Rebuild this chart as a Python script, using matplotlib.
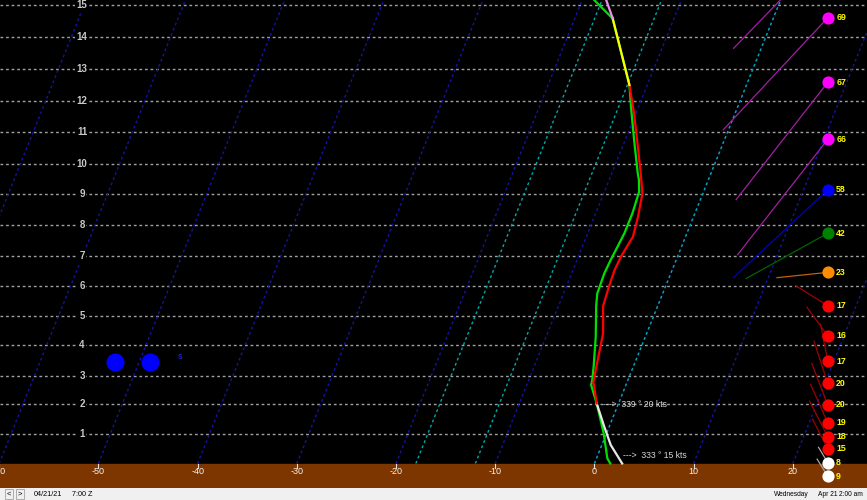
import numpy as np
import matplotlib
matplotlib.use('Agg')
import matplotlib.pyplot as plt

plt.rcParams['font.family'] = ['Liberation Sans', 'DejaVu Sans']

# sounding profile (height km, deg C)
temp_km = [0.0, 0.62, 1.24, 2.03, 2.78, 3.42, 4.08, 4.41, 5.33, 5.99, 6.54, 6.98,
           7.63, 8.28, 9.03, 9.71, 10.76, 11.62, 12.51, 14.6, 15.5]
temp_c = [2.8, 0.9, -0.5, -2.2, -3.4, -3.8, -4.2, -4.4, -5.5, -5.7, -5.8, -5.7,
          -5.3, -5.6, -6.1, -7.1, -8.8, -10.2, -11.8, -16.2, -18.4]

dew_km = [0.0, 0.17, 1.02, 2.03, 2.67, 2.85, 3.3, 4.29, 5.33, 5.76, 6.43, 6.87,
          7.74, 8.39, 9.09, 9.48, 9.71, 10.76, 11.72, 12.51, 14.59, 15.5]
dew_c = [1.6, 1.1, -0.3, -2.2, -3.5, -3.6, -4.0, -5.0, -6.2, -6.6, -6.7, -6.6,
         -6.3, -6.3, -6.5, -7.0, -7.4, -9.1, -10.6, -11.8, -16.2, -20.3]

# winds
wind_km = [16.7, 14.61, 12.59, 10.78, 9.15, 7.74, 6.46, 5.34, 4.32, 3.48, 2.73,
           1.98, 1.37, 0.90, 0.49, 0.03, -0.42]
wind_kt = [61, 69, 67, 66, 58, 42, 23, 17, 16, 17, 20, 20, 19, 18, 15, 8, 9]
wind_dir = [224, 223, 218, 218, 227, 241, 264, 302, 324, 349, 342, 339, 336, 333,
            333, 329, 328]

note_km = [2.0, 0.28]
note_dir = [339, 333]
note_kt = [20, 15]

dot_x = [-48.3, -44.75]
dot_km = 3.45

temp_ticks = [-60, -50, -40, -30, -20, -10, 0, 10, 20]
height_ticks = list(range(1, 16))
isotherms = list(range(-130, 40, 10))
snow_lines = [0, -12, -18]

# screen height (px above ground) of each km level
scale_km = [-2, 0, 1, 2, 3, 4, 5, 6, 7, 8, 9, 10, 11, 12, 13, 14, 15, 17]
scale_px = [-60, 0, 29.8, 59.2, 87.8, 118.2, 147.8, 177.2, 207.5, 238.2, 269.2,
            299.2, 331.2, 362.2, 394.2, 426.2, 458.2, 522.2]
SKEW = 0.0405  # deg C per screen px


def fwd(z):
    return np.interp(z, scale_km, scale_px)


def inv(h):
    return np.interp(h, scale_px, scale_km)


def skew_x(t, z):
    return np.asarray(t, dtype=float) + SKEW * fwd(np.asarray(z, dtype=float))


def wind_colors(kt):
    if kt >= 60:
        return '#ff00ff', '#a020a0'
    if kt >= 50:
        return '#0000ff', '#0000c0'
    if kt >= 30:
        return '#008000', '#006400'
    if kt > 20:
        return '#ff8c00', '#c06010'
    if kt >= 10:
        return '#ff0000', '#a00000'
    return '#ffffff', '#a8a8a8'


fig = plt.figure(figsize=(8.67, 5.0), dpi=100, facecolor='#f0f0f0')
ax = fig.add_axes([0, 12 / 500, 1, 488 / 500])
ax.set_facecolor('black')
ax.set_yscale('function', functions=(fwd, inv))
ybot, ytop = inv(-24.5), inv(463.5)
ax.set_xlim(-59.92, 27.48)
ax.set_ylim(ybot, ytop)
ax.tick_params(left=False, bottom=False, labelleft=False, labelbottom=False)
for s in ax.spines.values():
    s.set_visible(False)

# height grid
for k in height_ticks:
    ax.axhline(k, color='#a0a0a0', lw=1, dashes=(2, 2), zorder=1)
    ax.text(-51.65, k, str(k), ha='center', va='center', color='#c8c8c8',
            fontsize=7, fontweight='bold', zorder=2,
            bbox=dict(fc='black', ec='none', pad=1.2))

# skewed isotherms
zz = np.array([0, ytop + 0.5])
for t in isotherms:
    ax.plot(skew_x(t, zz), zz, color='#1414a0', lw=1, dashes=(2, 2), zorder=1.5)
for t in snow_lines:
    ax.plot(skew_x(t, zz), zz, color='#00a8a8', lw=1, dashes=(2, 2), zorder=1.6)

# ground
ax.axhspan(ybot - 1, 0, color='#7d3600', zorder=3)
xt = ax.get_xaxis_transform()
for t in temp_ticks:
    ax.plot([t, t], [24 / 488, 20 / 488], transform=xt, color='#e0e0e0', lw=0.8, zorder=4)
    ax.text(t, 16 / 488, str(t), transform=xt, ha='center', va='center',
            color='#f4f4f4', fontsize=6.5, zorder=4)

# profiles
dk = np.array(dew_km)
ax.plot(skew_x(dew_c, dk), dk, color='#00e000', lw=1.6, zorder=4)
tk = np.array(temp_km)
tx = skew_x(temp_c, tk)
for lo, hi, col in [(0, 2.03, '#e8e8e8'), (2.03, 12.51, '#ff0000'),
                    (12.51, 14.6, '#ffff00'), (14.6, 16, '#e890e8')]:
    m = (tk >= lo) & (tk <= hi)
    ax.plot(tx[m], tk[m], color=col, lw=1.6, zorder=4.5)

for z, d, kt in zip(note_km, note_dir, note_kt):
    x = np.interp(z, temp_km, tx)
    ax.annotate('--->  %d \u00b0 %d kts' % (d, kt), xy=(x, z), xytext=(4, 0),
                textcoords='offset points', va='center', ha='left',
                color='#d8d8d8', fontsize=6.2, zorder=5)

# wind circles
xc = 23.52
for z, kt, d in zip(wind_km, wind_kt, wind_dir):
    col, scol = wind_colors(kt)
    p0 = ax.transData.transform((xc, z))
    L = 2.22 * kt
    p1 = p0 + L * np.array([np.sin(np.radians(d)), np.cos(np.radians(d))])
    x1, z1 = ax.transData.inverted().transform(p1)
    ax.plot([xc, x1], [z, z1], color=scol, lw=0.9, zorder=6)
    ax.plot(xc, z, 'o', ms=8.8, color=col, mec='none', zorder=7)
    if z < ytop:
        ax.text(xc + 0.85, z, str(kt), color='#ffff00', fontsize=6.3,
                fontweight='bold', va='center', ha='left', zorder=8)

# blue markers on the left
ax.plot(dot_x, [dot_km] * len(dot_x), 'o', ms=13, color='#0000ff', mec='none', zorder=5)
ax.text(-41.77, 3.64, 's', color='#2a2aff', fontsize=6.5, ha='center', va='center')

# status bar
fy = 6 / 500
for xpx, s in [(9, '<'), (20, '>')]:
    fig.text(xpx / 867, fy, s, ha='center', va='center', fontsize=5.5,
             bbox=dict(boxstyle='square,pad=0.25', fc='#f0f0f0', ec='#a0a0a0', lw=0.6))
fig.text(34 / 867, fy, '04/21/21', ha='left', va='center', fontsize=5.2)
fig.text(72 / 867, fy, '7:00 Z', ha='left', va='center', fontsize=5.2)
fig.text(809 / 867, fy, 'Wednesday', ha='right', va='center', fontsize=4.8)
fig.text(837 / 867, fy, 'Apr 21', ha='right', va='center', fontsize=4.8)
fig.text(863 / 867, fy, '2:00 am', ha='right', va='center', fontsize=4.8)

fig.savefig('out.png', dpi=100, facecolor=fig.get_facecolor())
